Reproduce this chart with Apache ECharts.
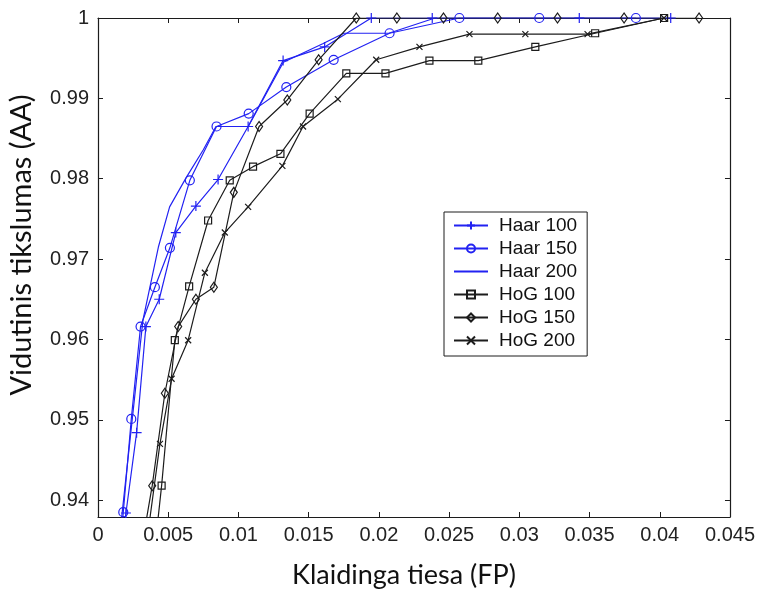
<!DOCTYPE html>
<html>
<head>
<meta charset="utf-8">
<script src="https://cdn.jsdelivr.net/npm/echarts@6/dist/echarts.min.js"></script>
<style>
  html, body { margin: 0; padding: 0; background: #fff; }
  #chart { width: 758px; height: 589px; }
</style>
</head>
<body>
<div id="chart"></div>
<script>
// Detection accuracy (AA) versus false positives (FP) for Haar and HoG detectors
const seriesNames = ['Haar 100', 'Haar 150', 'Haar 200', 'HoG 100', 'HoG 150', 'HoG 200'];

const haar100X = [0.0014, 0.00199, 0.00275, 0.00341, 0.00436, 0.00554, 0.00697, 0.00855, 0.01069, 0.01318, 0.01614, 0.01946, 0.0238, 0.03427, 0.04078];
const haar100Y = [0.930, 0.9384, 0.9484, 0.9616, 0.9650, 0.9733, 0.9766, 0.9799, 0.9865, 0.9947, 0.9964, 1, 1, 1, 1];

const haar150X = [0.0014, 0.0018, 0.00237, 0.00303, 0.00405, 0.00512, 0.00654, 0.00844, 0.01073, 0.01341, 0.01678, 0.02076, 0.02573, 0.03142, 0.0383];
const haar150Y = [0.930, 0.9385, 0.9501, 0.9616, 0.9665, 0.9714, 0.9798, 0.9865, 0.9881, 0.9914, 0.9948, 0.9981, 1, 1, 1];

const haar200X = [0.0012, 0.0032, 0.0043, 0.0051, 0.0063, 0.0075, 0.0084, 0.0107, 0.0132, 0.0160, 0.0175, 0.0207, 0.0240, 0.0400];
const haar200Y = [0.930, 0.9624, 0.9715, 0.9765, 0.9802, 0.9836, 0.9865, 0.9865, 0.9945, 0.9968, 0.9981, 0.9981, 1, 1];

const hog100X = [0.0038, 0.00453, 0.00547, 0.00649, 0.00784, 0.00938, 0.01104, 0.01299, 0.01507, 0.01768, 0.02047, 0.0236, 0.02708, 0.03114, 0.0354, 0.04031];
const hog100Y = [0.930, 0.9418, 0.9599, 0.9666, 0.9748, 0.9798, 0.9815, 0.9831, 0.9881, 0.9931, 0.9931, 0.9947, 0.9947, 0.9964, 0.9981, 1];

const hog150X = [0.0027, 0.00386, 0.00476, 0.00571, 0.00697, 0.00825, 0.00967, 0.01147, 0.01348, 0.01571, 0.01839, 0.02128, 0.0246, 0.02846, 0.03272, 0.03746, 0.0428];
const hog150Y = [0.930, 0.9418, 0.9533, 0.9616, 0.9650, 0.9665, 0.9783, 0.9865, 0.9898, 0.9948, 1, 1, 1, 1, 1, 1, 1];

const hog200X = [0.0031, 0.00441, 0.00524, 0.00642, 0.00761, 0.00903, 0.01069, 0.01313, 0.0146, 0.01708, 0.01981, 0.02289, 0.02645, 0.03043, 0.03486, 0.0403];
const hog200Y = [0.930, 0.9470, 0.9551, 0.9599, 0.9683, 0.9733, 0.9765, 0.9816, 0.9865, 0.9899, 0.9948, 0.9964, 0.9980, 0.9980, 0.9980, 1];

const xTickValues = [0, 0.005, 0.01, 0.015, 0.02, 0.025, 0.03, 0.035, 0.04, 0.045];
const xTickLabels = ['0', '0.005', '0.01', '0.015', '0.02', '0.025', '0.03', '0.035', '0.04', '0.045'];
const yTickValues = [0.94, 0.95, 0.96, 0.97, 0.98, 0.99, 1];
const yTickLabels = ['0.94', '0.95', '0.96', '0.97', '0.98', '0.99', '1'];

const xMin = 0, xMax = 0.045, xStep = 0.005;
const yMin = 0.9379, yMax = 1;

const BLUE = '#2222f2';
const BLACK = '#1c1c1c';
const NUM_FONT = '"Liberation Sans", Arial, sans-serif';
const TITLE_FONT = 'Lato, "Open Sans", sans-serif';

const PLUS = 'path://M0,5L10,5M5,0L5,10';
const CROSS = 'path://M0,0L10,10M10,0L0,10';

function zip(xs, ys) { return xs.map((x, i) => [x, ys[i]]); }

function makeSeries(name, xs, ys, color, symbol, size) {
  return {
    name: name,
    type: 'line',
    data: zip(xs, ys),
    clip: true,
    symbol: symbol,
    symbolSize: size,
    showSymbol: size > 0 || Array.isArray(size),
    showAllSymbol: true,
    animation: false,
    lineStyle: { color: color, width: 1.2 },
    itemStyle: { color: 'none', borderColor: color, borderWidth: 1.2 },
    emphasis: { disabled: true },
    z: 3
  };
}

const chart = echarts.init(document.getElementById('chart'), null, { renderer: 'canvas' });

const tickFmtX = v => {
  const i = xTickValues.findIndex(t => Math.abs(t - v) < 1e-9);
  return i >= 0 ? xTickLabels[i] : '';
};
const tickFmtY = v => {
  const i = yTickValues.findIndex(t => Math.abs(t - v) < 1e-9);
  return i >= 0 ? yTickLabels[i] : '';
};

const frameLine = { show: true, onZero: false, lineStyle: { color: BLACK, width: 1.2 } };
const tickInside = { show: true, inside: true, length: 5, lineStyle: { color: BLACK, width: 1 } };

// Haar 200 is drawn without markers, so its legend entry shows the line only
const legendData = seriesNames.map(n => n === 'Haar 200'
  ? { name: n, itemStyle: { borderWidth: 0, borderColor: 'transparent', color: 'none' } }
  : n);

chart.setOption({
  backgroundColor: '#fff',
  animation: false,
  grid: { left: 98, top: 18, width: 633, height: 499, containLabel: false },
  legend: {
    orient: 'vertical',
    left: 444,
    top: 212,
    data: legendData,
    itemWidth: 34,
    itemHeight: 10,
    itemGap: 4,
    padding: [4, 10, 6, 9],
    backgroundColor: '#fff',
    borderColor: BLACK,
    borderWidth: 1,
    borderRadius: 0,
    selectedMode: false,
    textStyle: { fontFamily: NUM_FONT, fontSize: 19, color: '#111', padding: [0, 0, 0, 6] }
  },
  xAxis: [
    {
      type: 'value', position: 'bottom', min: xMin, max: xMax, interval: xStep,
      axisLine: frameLine, axisTick: tickInside, splitLine: { show: false },
      axisLabel: { formatter: tickFmtX, fontFamily: NUM_FONT, fontSize: 20, color: '#222', margin: 8 }
    },
    {
      type: 'value', position: 'top', min: xMin, max: xMax, interval: xStep,
      axisLine: frameLine, axisTick: tickInside, splitLine: { show: false },
      axisLabel: { show: false }
    }
  ],
  yAxis: [
    {
      type: 'value', position: 'left', min: yMin, max: yMax,
      axisLine: frameLine, splitLine: { show: false },
      axisTick: Object.assign({}, tickInside, { customValues: yTickValues }),
      axisLabel: { customValues: yTickValues, formatter: tickFmtY, fontFamily: NUM_FONT, fontSize: 20, color: '#222', margin: 9 }
    },
    {
      type: 'value', position: 'right', min: yMin, max: yMax,
      axisLine: frameLine, splitLine: { show: false },
      axisTick: Object.assign({}, tickInside, { customValues: yTickValues }),
      axisLabel: { show: false }
    }
  ],
  graphic: [
    {
      type: 'text', x: 404, y: 575,
      style: { text: 'Klaidinga tiesa (FP)', font: '27px ' + TITLE_FONT, fill: '#111', align: 'center', verticalAlign: 'middle' }
    },
    {
      type: 'text', x: 22, y: 245, rotation: Math.PI / 2,
      style: { text: 'Vidutinis tikslumas (AA)', font: '29px ' + TITLE_FONT, fill: '#111', align: 'center', verticalAlign: 'middle' }
    }
  ],
  series: [
    makeSeries(seriesNames[0], haar100X, haar100Y, BLUE, PLUS, 10),
    makeSeries(seriesNames[1], haar150X, haar150Y, BLUE, 'circle', 9),
    makeSeries(seriesNames[2], haar200X, haar200Y, BLUE, 'circle', 0),
    makeSeries(seriesNames[3], hog100X, hog100Y, BLACK, 'rect', 7),
    makeSeries(seriesNames[4], hog150X, hog150Y, BLACK, 'diamond', [7, 10]),
    makeSeries(seriesNames[5], hog200X, hog200Y, BLACK, CROSS, 6)
  ]
});
</script>
</body>
</html>
